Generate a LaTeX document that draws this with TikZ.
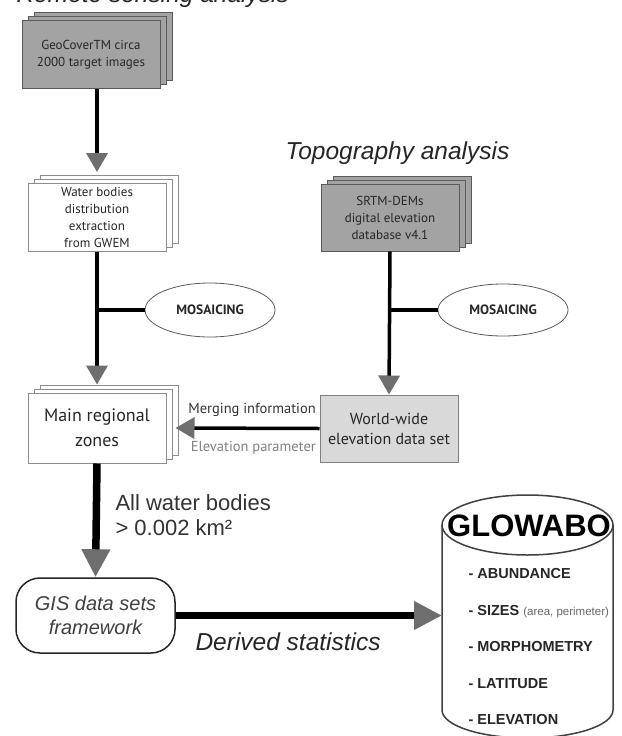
\documentclass[tikz,border=0pt]{standalone}
\usepackage{fontspec}
\setmainfont{Liberation Sans}
\newfontfamily\myr{PT Sans}
\usetikzlibrary{shapes.geometric,shadows,arrows.meta}
\definecolor{boxdark}{HTML}{A3A3A3}
\definecolor{boxlight}{HTML}{D9D9D9}
\definecolor{tipgray}{HTML}{6E6E6E}
\definecolor{edgegray}{HTML}{5A5A5A}
\begin{document}
\begin{tikzpicture}[x=1pt,y=-1pt,
  stackbase/.style={rectangle, line width=1pt, minimum width=138pt, minimum height=68pt, inner sep=0pt, align=center, font=\myr\fontsize{13}{17}\selectfont, text=black!85},
  darkstack/.style={stackbase, draw=edgegray, fill=boxdark, double copy shadow={shadow xshift=6pt, shadow yshift=4pt, draw=edgegray, fill=boxdark, line width=1pt}},
  whitestack/.style={stackbase, draw=black!45, fill=white, double copy shadow={shadow xshift=6pt, shadow yshift=4pt, draw=black!45, fill=white, line width=1pt}},
  mosaic/.style={ellipse, draw=edgegray, line width=0.8pt, minimum width=130pt, minimum height=54pt, inner sep=0pt, font=\myr\bfseries\fontsize{13.5}{15}\selectfont, text=black!85},
  conn/.style={line width=3.5pt, black},
  tip/.style={-{Triangle[length=19pt,width=21pt,color=tipgray]}},
  bigtip/.style={-{Triangle[length=28pt,width=27pt,color=tipgray]}},
  heading/.style={anchor=base west, font=\itshape\fontsize{24.5}{28}\selectfont, text=black!85},
  plain/.style={anchor=base west, font=\fontsize{22}{25}\selectfont, text=black!80},
  item/.style={anchor=base west, font=\bfseries\fontsize{14.5}{16}\selectfont, text=black!85},
  sidelabel/.style={anchor=east, inner sep=0pt, font=\myr\fontsize{14.5}{16}\selectfont}
]
\useasboundingbox (0,0) rectangle (621,736);
\fill[white] (0,0) rectangle (621,736);

% headings
\node[heading] (title) at (13,2.5) {Remote sensing analysis};
\node[heading] (topo) at (282,159) {Topography analysis};

% boxes
\node[darkstack] (geo) at (91,54.5) {GeoCoverTM circa\\2000 target images};
\node[whitestack] (wat) at (97,217.5) {Water bodies\\distribution\\extraction\\from GWEM};
\node[whitestack, minimum height=70pt, font=\myr\fontsize{18}{25}\selectfont] (main) at (97,428) {Main regional\\zones};
\node[darkstack, minimum height=67pt] (srtm) at (390,217.5) {SRTM-DEMs\\digital elevation\\database v4.1};
\node[rectangle, draw=black!50, fill=boxlight, line width=1pt, minimum width=138pt, minimum height=67pt, inner sep=0pt, align=center, font=\myr\fontsize{16}{20}\selectfont, text=black!85] (world) at (389,428.5) {World-wide\\elevation data set};
\node[mosaic] (mos1) at (210,310) {MOSAICING};
\node[mosaic, minimum height=52pt] (mos2) at (503,310) {MOSAICING};

% GIS box
\node[rectangle, rounded corners=24pt, draw=black!85, line width=1.5pt, minimum width=159pt, minimum height=75pt, inner sep=0pt, align=center, font=\itshape\fontsize{20}{24}\selectfont, text=black!75] (gis) at (95.5,615.5) {GIS data sets\\framework};

% cylinder
\draw[line width=1.5pt, draw=black!75, fill=white] (442,525) -- (442,710) arc[start angle=180, end angle=360, x radius=85.5pt, y radius=28pt] -- (613,525);
\draw[line width=1.5pt, draw=black!75, fill=white] (527.5,525) ellipse[x radius=85.5pt, y radius=30pt];
\node[font=\bfseries\fontsize{31}{36}\selectfont, inner sep=0pt] (glow) at (529,526) {GLOWABO};
\coordinate (cylL) at (442,615.5);
\node[item] (i1) at (465,578) {- ABUNDANCE};
\node[item] (i2) at (465,615) {- SIZES {\mdseries\fontsize{11.5}{13}\selectfont\color{black!60}(area, perimeter)}};
\node[item] (i3) at (465,651) {- MORPHOMETRY};
\node[item] (i4) at (465,688) {- LATITUDE};
\node[item] (i5) at (465,724) {- ELEVATION};

% connectors
\draw[conn, tip] ([xshift=6pt]geo.south) -- ([yshift=11pt]wat.north);
\draw[conn, tip] (wat.south) -- ([yshift=8pt]main.north);
\draw[conn] (wat.south |- mos1.west) -- (mos1.west);
\draw[conn, tip] (srtm.south) -- (world.north);
\draw[conn] (srtm.south |- mos2.west) -- (mos2.west);
\draw[conn, tip] (world.west) -- ([xshift=9pt]main.east);
\node[sidelabel, text=black!80] (merg) at (316,410) {Merging information};
\node[sidelabel, text=black!50] (elev) at (316,448) {Elevation parameter};

\draw[line width=7.5pt, bigtip] (main.south) -- (gis.north);
\draw[line width=7.5pt, bigtip] (gis.east) -- (cylL);

\node[plain] (allw1) at (112,510) {All water bodies};
\node[plain] (allw2) at (112,535) {> 0.002 km²};
\node[heading] (deriv) at (192,650) {Derived statistics};
\end{tikzpicture}
\end{document}
